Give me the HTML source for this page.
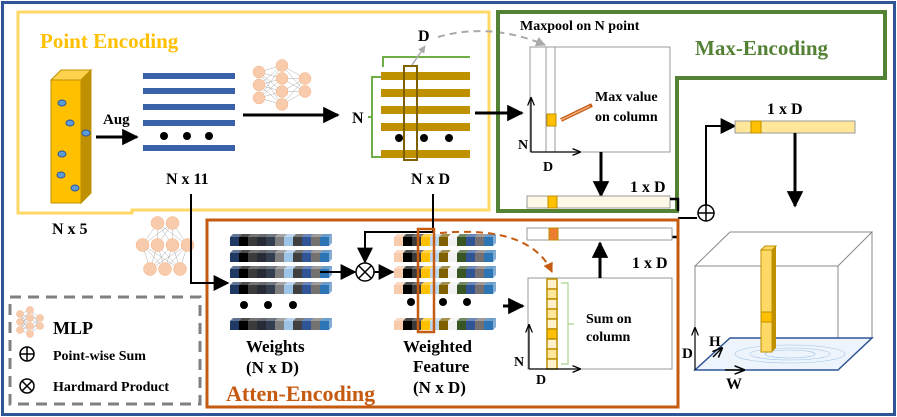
<!DOCTYPE html>
<html><head><meta charset="utf-8"><style>
html,body{margin:0;padding:0;background:#fff;width:897px;height:417px;overflow:hidden}
svg{display:block}
text{font-family:"Liberation Serif",serif;font-weight:bold;fill:#000}
</style></head><body>
<svg id="s" width="897" height="417" viewBox="0 0 897 417" xmlns="http://www.w3.org/2000/svg">
<defs>
<marker id="ah" viewBox="0 0 10 10" refX="9" refY="5" markerWidth="5.5" markerHeight="5.5" orient="auto"><path d="M0,0L10,5L0,10z" fill="#000"/></marker>
<marker id="ah2" viewBox="0 0 10 10" refX="9" refY="5" markerWidth="8" markerHeight="8" orient="auto"><path d="M0,0L10,5L0,10z" fill="#000"/></marker>
<marker id="ahs" viewBox="0 0 10 10" refX="9" refY="5" markerWidth="7" markerHeight="7" orient="auto"><path d="M0,1L10,5L0,9" fill="none" stroke="#000" stroke-width="1.5"/></marker>
<marker id="ahg" viewBox="0 0 10 10" refX="9" refY="5" markerWidth="5" markerHeight="5" orient="auto"><path d="M0,0L10,5L0,10z" fill="#aaa"/></marker>
<marker id="aho" viewBox="0 0 10 10" refX="9" refY="5" markerWidth="5" markerHeight="5" orient="auto"><path d="M0,0L10,5L0,10z" fill="#c55a11"/></marker>
</defs>
<rect x="2.5" y="2.5" width="892" height="412" fill="none" stroke="#2f5597" stroke-width="3"/>
<path d="M18,12H489V210H132V213H18Z" fill="none" stroke="#ffd966" stroke-width="3"/>
<text x="40" y="48" font-size="21" style="fill:#ffc000">Point Encoding</text>
<polygon points="51,80 61,70 91,70 81,80" fill="#ffd24d" stroke="#bf9000"/>
<polygon points="81,80 91,70 91,193 81,203" fill="#bf9000" stroke="#bf9000"/>
<rect x="51" y="80" width="30" height="123" fill="#ffc000" stroke="#bf9000"/>
<g fill="#5b9bd5" stroke="#2f5597" stroke-width="1">
<ellipse cx="62" cy="103" rx="4" ry="3"/><ellipse cx="70" cy="123" rx="4" ry="3"/><ellipse cx="86" cy="133" rx="4" ry="3"/>
<ellipse cx="62" cy="154" rx="4" ry="3"/><ellipse cx="61" cy="175" rx="4" ry="3"/><ellipse cx="75" cy="188" rx="4" ry="3"/></g>
<line x1="96" y1="137" x2="137" y2="137" stroke="#000" stroke-width="3" marker-end="url(#ah)"/>
<text x="103" y="124" font-size="15">Aug</text>
<g fill="#3a62a8"><rect x="143" y="73" width="92" height="6"/><rect x="143" y="88" width="92" height="6"/><rect x="143" y="104" width="92" height="6"/><rect x="143" y="120" width="92" height="6"/><rect x="143" y="145" width="92" height="6"/></g>
<g fill="#000"><circle cx="164" cy="136" r="4"/><circle cx="187" cy="136" r="4"/><circle cx="209" cy="136" r="4"/></g>
<text x="166" y="184" font-size="16">N x 11</text>
<text x="52" y="234" font-size="16">N x 5</text>
<g id="mlp1"></g>
<line x1="243" y1="115" x2="338" y2="115" stroke="#000" stroke-width="3" marker-end="url(#ah)"/>
<g fill="#bf9000"><rect x="381" y="72" width="89" height="8"/><rect x="381" y="89" width="89" height="8"/><rect x="381" y="106" width="89" height="8"/><rect x="381" y="123" width="89" height="8"/><rect x="381" y="150" width="89" height="8"/></g>
<g fill="#000"><circle cx="399" cy="138" r="4"/><circle cx="424" cy="138" r="4"/><circle cx="449" cy="138" r="4"/></g>
<path d="M383,67V57H470" fill="none" stroke="#70ad47" stroke-width="2"/>
<path d="M381,77H372V157H381M372,117H368" fill="none" stroke="#70ad47" stroke-width="2"/>
<text x="352" y="123" font-size="16">N</text>
<rect x="404" y="66" width="13" height="94" fill="none" stroke="#7f6000" stroke-width="2"/>
<line x1="412" y1="65" x2="425" y2="46" stroke="#aaa" stroke-width="1.5" marker-end="url(#ahg)"/>
<text x="418" y="41" font-size="16">D</text>
<path d="M438,37 Q490,22 545,45" fill="none" stroke="#aaa" stroke-width="2" stroke-dasharray="7,5" marker-end="url(#ahg)"/>
<text x="411" y="184" font-size="16">N x D</text>
<path d="M498,12H885V78H677V211H498Z" fill="none" stroke="#548235" stroke-width="4"/>
<text x="695" y="55" font-size="21" style="fill:#548235">Max-Encoding</text>
<text x="520" y="30" font-size="14">Maxpool  on N point</text>
<line x1="475" y1="113" x2="522" y2="113" stroke="#000" stroke-width="3" marker-end="url(#ah)"/>
<rect x="530" y="47" width="140" height="105" fill="#fff" stroke="#999"/>
<line x1="546" y1="47" x2="546" y2="152" stroke="#999"/><line x1="555" y1="47" x2="555" y2="152" stroke="#999"/>
<rect x="547" y="114" width="9" height="12" fill="#ffc000" stroke="#bf9000"/>
<line x1="531" y1="152" x2="531" y2="98" stroke="#000" stroke-width="1.2" marker-end="url(#ahs)"/>
<line x1="531" y1="152" x2="580" y2="152" stroke="#000" stroke-width="1.2" marker-end="url(#ahs)"/>
<text x="518" y="149" font-size="14">N</text><text x="543" y="171" font-size="14">D</text>
<line x1="561" y1="120" x2="592" y2="105" stroke="#c55a11" stroke-width="4"/>
<line x1="561" y1="120" x2="590" y2="106" stroke="#f4b183" stroke-width="1.5"/>
<text x="595" y="101" font-size="14">Max value</text><text x="595" y="121" font-size="14">on column</text>
<line x1="601" y1="152" x2="601" y2="196" stroke="#000" stroke-width="3" marker-end="url(#ah)"/>
<text x="630" y="192" font-size="16">1 x D</text>
<rect x="527" y="196" width="143" height="12" fill="#fff8e6" stroke="#999"/>
<rect x="548" y="196" width="9" height="12" fill="#ffc000" stroke="#bf9000"/>
<path d="M670,199H678V211M670,237H678V225" fill="none" stroke="#000" stroke-width="2.5"/>
<line x1="678" y1="218" x2="697" y2="218" stroke="#000" stroke-width="2"/>
<circle cx="706" cy="213" r="8" fill="#fff" stroke="#000" stroke-width="1.5"/>
<path d="M698,213H714M706,205V221" stroke="#000" stroke-width="1.5"/>
<path d="M706,205V126H735" fill="none" stroke="#000" stroke-width="2" marker-end="url(#ah2)"/>
<rect x="735" y="121" width="120" height="12" fill="#ffe699" stroke="#999"/>
<rect x="751" y="121" width="10" height="12" fill="#ffc000" stroke="#bf9000"/>
<text x="767" y="114" font-size="16">1 x D</text>
<line x1="795" y1="133" x2="795" y2="206" stroke="#000" stroke-width="3" marker-end="url(#ah)"/>
<g fill="none" stroke="#888" stroke-width="1">
<polygon points="695,266 730,232 872,232 838,266"/><line x1="872" y1="232" x2="872" y2="338"/><rect x="695" y="266" width="143" height="104"/>
</g>
<polygon points="695,370 838,370 872,338 730,338" fill="#eef4fb" stroke="#2f5597" stroke-width="1.5"/>
<g stroke="#9dc3e6" stroke-width="0.6" fill="none"><ellipse cx="790" cy="354" rx="40" ry="6"/><ellipse cx="790" cy="354" rx="25" ry="4"/><ellipse cx="790" cy="354" rx="55" ry="9"/></g>
<polygon points="761,250 765,246 776,246 772,250" fill="#ffd966" stroke="#bf9000"/>
<polygon points="772,250 776,246 776,348 772,352" fill="#bf9000"/>
<rect x="761" y="250" width="11" height="102" fill="#ffd966" stroke="#bf9000"/>
<rect x="761" y="312" width="11" height="10" fill="#ffc000" stroke="#bf9000"/>
<line x1="695" y1="370" x2="695" y2="328" stroke="#000" stroke-width="1.2" marker-end="url(#ahs)"/>
<line x1="713" y1="357" x2="722" y2="348" stroke="#000" stroke-width="1.5" marker-end="url(#ahs)"/>
<line x1="725" y1="370" x2="744" y2="370" stroke="#000" stroke-width="1.5" marker-end="url(#ahs)"/>
<text x="682" y="358" font-size="15">D</text><text x="709" y="346" font-size="15">H</text><text x="726" y="389" font-size="16">W</text>
<rect x="207" y="220" width="471" height="187" fill="none" stroke="#c55a11" stroke-width="3"/>
<text x="226" y="401" font-size="22" style="fill:#c55a11">Atten-Encoding</text>
<g id="mlp2"></g>
<path d="M191,194V283H228" fill="none" stroke="#000" stroke-width="2" marker-end="url(#ah2)"/>
<path d="M433,194V232H365V262" fill="none" stroke="#000" stroke-width="2" marker-end="url(#ah2)"/>
<g id="cells"></g>
<g fill="#000"><circle cx="244" cy="305" r="4"/><circle cx="268" cy="305" r="4"/><circle cx="293" cy="305" r="4"/><circle cx="411" cy="302" r="4"/><circle cx="443" cy="302" r="4"/><circle cx="467" cy="302" r="4"/></g>
<line x1="320" y1="272" x2="355" y2="272" stroke="#000" stroke-width="2" marker-end="url(#ah2)"/>
<line x1="374" y1="272" x2="393" y2="272" stroke="#000" stroke-width="2" marker-end="url(#ah2)"/>
<circle cx="365" cy="272" r="9" fill="#fff" stroke="#000" stroke-width="1.5"/>
<path d="M359,266L371,278M371,266L359,278" stroke="#000" stroke-width="1.5"/>
<rect x="418" y="229" width="16" height="103" fill="none" stroke="#c55a11" stroke-width="2.5"/>
<path d="M440,233 Q530,225 552,272" fill="none" stroke="#c55a11" stroke-width="2" stroke-dasharray="7,5" marker-end="url(#aho)"/>
<line x1="503" y1="306" x2="523" y2="306" stroke="#000" stroke-width="3" marker-end="url(#ah)"/>
<text x="246" y="352" font-size="17">Weights</text>
<text x="246" y="373" font-size="17">(N x D)</text>
<text x="403" y="352" font-size="17">Weighted</text>
<text x="413" y="372" font-size="17">Feature</text>
<text x="413" y="393" font-size="17">(N x D)</text>
<rect x="528" y="278" width="144" height="91" fill="#fff" stroke="#999"/>
<g id="col"></g>
<path d="M561,283H568V364H561M568,324H574" fill="none" stroke="#a9d18e" stroke-width="1.2"/>
<text x="586" y="323" font-size="14">Sum on</text><text x="586" y="341" font-size="14">column</text>
<line x1="529" y1="369" x2="529" y2="325" stroke="#000" stroke-width="1.2" marker-end="url(#ahs)"/>
<line x1="529" y1="369" x2="580" y2="369" stroke="#000" stroke-width="1.2" marker-end="url(#ahs)"/>
<text x="514" y="366" font-size="14">N</text><text x="536" y="384" font-size="14">D</text>
<line x1="600" y1="278" x2="600" y2="243" stroke="#000" stroke-width="3" marker-end="url(#ah)"/>
<rect x="527" y="228" width="145" height="12" fill="#fff" stroke="#999"/>
<rect x="549" y="228" width="9" height="12" fill="#ed7d31" stroke="#bf9000"/>
<text x="632" y="268" font-size="16">1 x D</text>
<rect x="10" y="297" width="190" height="107" fill="none" stroke="#808080" stroke-width="3" stroke-dasharray="11,7"/>
<g id="mlp3"></g>
<text x="53" y="334" font-size="18">MLP</text>
<circle cx="27" cy="354" r="7" fill="none" stroke="#000" stroke-width="1.5"/><path d="M20,354H34M27,347V361" stroke="#000" stroke-width="1.5"/>
<text x="53" y="360" font-size="14">Point-wise Sum</text>
<circle cx="27" cy="386" r="7" fill="none" stroke="#000" stroke-width="1.5"/><path d="M22,381L32,391M32,381L22,391" stroke="#000" stroke-width="1.5"/>
<text x="53" y="391" font-size="14">Hardmard Product</text>
</svg>
<script>
var NS="http://www.w3.org/2000/svg";
function el(p,t,a){var e=document.createElementNS(NS,t);for(var k in a)e.setAttribute(k,a[k]);p.appendChild(e);return e;}
function mlp(id,layers,x0,dx,cy,dy,r){var g=document.getElementById(id),pts=[];
layers.forEach(function(n,i){var L=[];for(var j=0;j<n;j++){L.push([x0+i*dx,cy+(j-(n-1)/2)*dy]);}pts.push(L);});
for(var i=0;i<pts.length-1;i++)pts[i].forEach(function(a){pts[i+1].forEach(function(b){el(g,"line",{x1:a[0],y1:a[1],x2:b[0],y2:b[1],stroke:"#999","stroke-width":0.4});});});
pts.forEach(function(L){L.forEach(function(p){el(g,"circle",{cx:p[0],cy:p[1],r:r,fill:"#f8cbad",stroke:"#f4b183","stroke-width":0.5});});});}
mlp("mlp1",[3,4,2],259,23,85,13,6);
(function(){var g=document.getElementById("mlp2");var rows=[[2,223],[4,245],[3,269]];var pts=rows.map(function(r){var L=[];for(var j=0;j<r[0];j++)L.push([165+(j-(r[0]-1)/2)*15,r[1]]);return L;});
for(var i=0;i<2;i++)pts[i].forEach(function(a){pts[i+1].forEach(function(b){el(g,"line",{x1:a[0],y1:a[1],x2:b[0],y2:b[1],stroke:"#999","stroke-width":0.4});});});
pts.forEach(function(L){L.forEach(function(p){el(g,"circle",{cx:p[0],cy:p[1],r:6.5,fill:"#f8cbad",stroke:"#f4b183","stroke-width":0.5});});});})();
mlp("mlp3",[3,4,2],20,10,322,8,3.5);
var wc=["#1f3864","#000","#3b3b3b","#262b36","#333f50","#7f7f7f","#9dc3e6","#404040","#2f5597","#767171","#2e75b6"];
var fc=["#f8cbad","#000","#3b3b3b","#ffc000","#bdd7ee","#7f6000","#f2f2f2","#375623","#2f5597","#767171","#2e75b6"];
var g=document.getElementById("cells");
function row(x,y,cols){var w=9;cols.forEach(function(c,i){var xx=x+i*w;
el(g,"polygon",{points:(xx)+","+(y)+" "+(xx+3)+","+(y-3)+" "+(xx+w+3)+","+(y-3)+" "+(xx+w)+","+(y),fill:c,opacity:0.7});
el(g,"rect",{x:xx,y:y,width:w,height:9,fill:c});});
el(g,"polygon",{points:(x+cols.length*w)+","+y+" "+(x+cols.length*w+3)+","+(y-3)+" "+(x+cols.length*w+3)+","+(y+6)+" "+(x+cols.length*w)+","+(y+9),fill:cols[cols.length-1],opacity:0.6});}
[237,253,269,285,321].forEach(function(y){row(230,y,wc);row(394,y,fc);});
var c=document.getElementById("col");
for(var i=0;i<9;i++){var y=279+i*10;el(c,"rect",{x:547,y:y,width:10,height:10,fill:(i==5?"#ffc000":(i%2?"#ffe699":"#fff2cc")),stroke:"#bf9000","stroke-width":1.5});}
</script>
</body></html>
